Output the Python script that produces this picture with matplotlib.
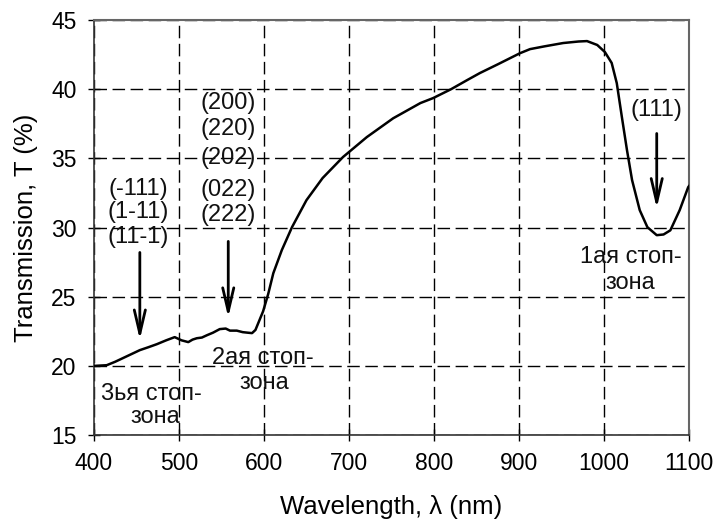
import matplotlib
matplotlib.use("Agg")
import matplotlib.pyplot as plt

plt.rcParams['font.family'] = ['Liberation Sans', 'DejaVu Sans']

wavelength = [400, 415, 425, 434, 444, 454, 464, 474, 485, 495, 503, 511, 516, 521, 527, 533, 540, 548,
              555, 560, 568, 575, 581, 586, 590, 594, 599, 605, 611, 621, 633, 650, 669, 693, 721,
              752, 784, 799, 820, 839, 854, 875, 901, 913, 930, 952, 970, 980, 992, 1001, 1009,
              1015, 1021, 1027, 1033, 1042, 1051, 1062, 1070, 1078, 1089, 1099, 1100]
transmission = [20.0, 20.05, 20.3, 20.56, 20.85, 21.14, 21.35, 21.57, 21.85, 22.08, 21.85, 21.72, 21.9, 22.0,
                22.05, 22.22, 22.4, 22.66, 22.7, 22.55, 22.55, 22.44, 22.4, 22.37, 22.6, 23.2, 23.95, 25.2,
                26.7, 28.37, 30.03, 31.98, 33.58, 35.1, 36.54, 37.9, 39.0, 39.36, 40.0, 40.66, 41.17,
                41.8, 42.6, 42.9, 43.1, 43.34, 43.45, 43.48, 43.2, 42.69, 41.9, 40.44, 37.99, 35.6,
                33.43, 31.26, 30.03, 29.45, 29.5, 29.8, 31.26, 32.92, 33.0]

x_ticks = [400, 500, 600, 700, 800, 900, 1000, 1100]
y_ticks = [15, 20, 25, 30, 35, 40, 45]

labels_3 = ["(-111)", "(1-11)", "(11-1)"]
labels_3_y = [32.8, 31.15, 29.3]
labels_2 = ["(200)", "(220)", "(202)", "(022)", "(222)"]
labels_2_y = [39.0, 37.1, 35.0, 32.75, 30.9]

fig = plt.figure(figsize=(7.17, 5.28), dpi=100)
ax = fig.add_axes([0.131, 0.176, 0.830, 0.786])

ax.plot(wavelength, transmission, color='black', lw=1.8, zorder=3)

ax.set_xlim(400, 1100)
ax.set_ylim(15, 45)
ax.set_xticks(x_ticks)
ax.set_yticks(y_ticks)
ax.grid(True, color='black', lw=1.0, linestyle=(0, (9, 4)))
ax.tick_params(direction='inout', length=9, width=1.0, labelsize=16.5, pad=8)
for side in ['left', 'bottom']:
    ax.spines[side].set_color('#333333')
    ax.spines[side].set_linewidth(1.2)
for side in ['top', 'right']:
    ax.spines[side].set_color('#666666')
    ax.spines[side].set_linewidth(1.5)

ax.set_xlabel("Wavelength, λ (nm)", fontsize=18.5)
ax.set_ylabel("Transmission, T (%)", fontsize=18.5)
ax.xaxis.set_label_coords(0.5, -0.145)
ax.yaxis.set_label_coords(-0.094, 0.5)

tc = '#111111'
fs = 17
for lab, yy in zip(labels_3, labels_3_y):
    ax.text(452, yy, lab, fontsize=fs, ha='center', va='center', color=tc)
for lab, yy in zip(labels_2, labels_2_y):
    ax.text(558, yy, lab, fontsize=fs, ha='center', va='center', color=tc)
ax.text(1062, 38.5, "(111)", fontsize=fs, ha='center', va='center', color=tc)

arrowprops = dict(arrowstyle='->,head_length=1.7,head_width=0.4', color='black', lw=2.0, shrinkA=0, shrinkB=0)
ax.annotate("", xy=(454, 21.9), xytext=(454, 28.2), arrowprops=arrowprops)
ax.annotate("", xy=(558, 23.5), xytext=(558, 29.0), arrowprops=arrowprops)
ax.annotate("", xy=(1062, 31.4), xytext=(1062, 36.8), arrowprops=arrowprops)

ax.text(467, 18.0, "3ья стоп-", fontsize=fs, ha='center', va='center', color=tc)
ax.text(472, 16.3, "зона", fontsize=fs, ha='center', va='center', color=tc)
ax.text(599, 20.6, "2ая стоп-", fontsize=fs, ha='center', va='center', color=tc)
ax.text(600, 18.8, "зона", fontsize=fs, ha='center', va='center', color=tc)
ax.text(1032, 27.9, "1ая стоп-", fontsize=fs, ha='center', va='center', color=tc)
ax.text(1031, 26.0, "зона", fontsize=fs, ha='center', va='center', color=tc)

fig.savefig("out.png", dpi=100)
